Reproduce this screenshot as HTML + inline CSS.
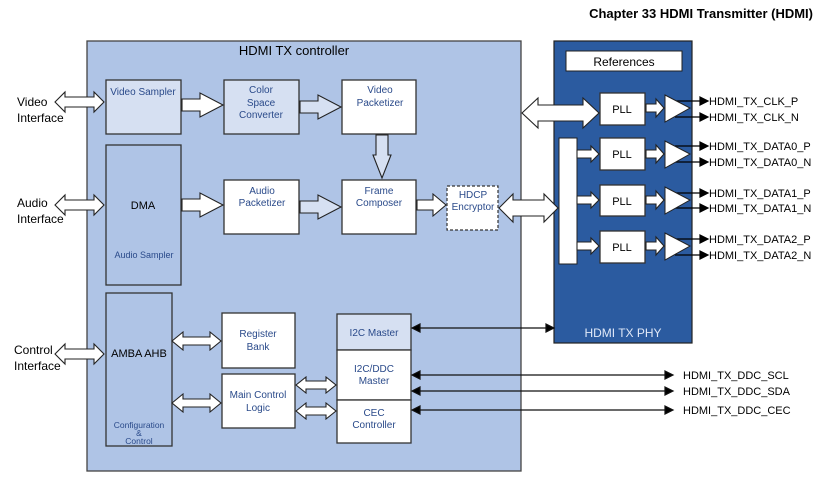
<!DOCTYPE html>
<html><head><meta charset="utf-8"><style>
html,body{margin:0;padding:0;background:#fff}
svg{display:block}
text{font-family:"Liberation Sans",sans-serif}
.b{fill:#fff;stroke:#333;stroke-width:1.3}
.l{fill:#d6e0f2;stroke:#333;stroke-width:1.3}
.a{fill:#fff;stroke:#222;stroke-width:1.1}
.al{fill:#d6e0f2;stroke:#222;stroke-width:1.1}
.t{font-size:10px;fill:#2a4a8a;text-anchor:middle}
.k{font-size:12px;fill:#000}
.o{font-size:11px;fill:#000}
</style></head><body>
<svg width="823" height="482" viewBox="0 0 823 482">
<text x="813" y="18" text-anchor="end" font-size="13" font-weight="bold">Chapter 33 HDMI Transmitter (HDMI)</text>
<!-- controller -->
<rect x="87" y="41" width="434" height="430" fill="#afc4e6" stroke="#444" stroke-width="1.3"/>
<text x="294" y="55" font-size="13" text-anchor="middle">HDMI TX controller</text>
<!-- PHY -->
<rect x="554" y="41" width="138" height="302" fill="#2b5ba0" stroke="#222" stroke-width="1.2"/>
<rect x="566" y="51" width="116" height="20" fill="#fff" stroke="#222"/>
<text x="624" y="66" font-size="12" text-anchor="middle">References</text>
<text x="623" y="337" font-size="12" fill="#dfe8f8" text-anchor="middle">HDMI TX PHY</text>

<!-- boxes -->
<rect class="l" x="106" y="80" width="75" height="54"/><text class="t" x="143" y="95">Video Sampler</text>
<rect class="l" x="224" y="80" width="75" height="54"/><text class="t" x="261" y="93">Color</text><text class="t" x="261" y="106">Space</text><text class="t" x="261" y="118">Converter</text>
<rect class="b" x="342" y="80" width="74" height="54"/><text class="t" x="380" y="93">Video</text><text class="t" x="380" y="106">Packetizer</text>
<rect x="106" y="145" width="75" height="140" fill="#afc4e6" stroke="#333" stroke-width="1.3"/>
<text x="143" y="209" font-size="11" text-anchor="middle">DMA</text><text class="t" x="144" y="258" font-size="9" style="font-size:9px">Audio Sampler</text>
<rect class="b" x="224" y="180" width="75" height="54"/><text class="t" x="262" y="194">Audio</text><text class="t" x="262" y="206">Packetizer</text>
<rect class="b" x="342" y="180" width="74" height="54"/><text class="t" x="379" y="194">Frame</text><text class="t" x="379" y="206">Composer</text>
<rect x="447" y="186" width="51" height="44" fill="#fff" stroke="#333" stroke-width="1.2" stroke-dasharray="3,2"/><text class="t" x="473" y="198">HDCP</text><text class="t" x="473" y="210">Encryptor</text>
<rect x="106" y="293" width="66" height="153" fill="#afc4e6" stroke="#333" stroke-width="1.3"/>
<text x="139" y="357" font-size="11" text-anchor="middle">AMBA AHB</text>
<text class="t" x="139" y="428" style="font-size:8.5px">Configuration</text><text class="t" x="139" y="436" style="font-size:8.5px">&amp;</text><text class="t" x="139" y="444" style="font-size:8.5px">Control</text>
<rect class="b" x="222" y="313" width="73" height="55"/><text class="t" x="258" y="337">Register</text><text class="t" x="258" y="350">Bank</text>
<rect class="b" x="222" y="374" width="73" height="54"/><text class="t" x="258" y="398">Main Control</text><text class="t" x="258" y="411">Logic</text>
<rect class="l" x="337" y="314" width="74" height="36"/><text class="t" x="374" y="336">I2C Master</text>
<rect class="b" x="337" y="350" width="74" height="50"/><text class="t" x="374" y="372">I2C/DDC</text><text class="t" x="374" y="384">Master</text>
<rect class="b" x="337" y="400" width="74" height="43"/><text class="t" x="374" y="416">CEC</text><text class="t" x="374" y="428">Controller</text>

<!-- PHY internals -->
<rect x="559" y="138" width="18" height="126" fill="#fff" stroke="#222"/>
<rect class="b" x="600" y="93" width="45" height="32"/><text x="622" y="113" font-size="11" text-anchor="middle">PLL</text>
<rect class="b" x="600" y="138" width="45" height="32"/><text x="622" y="158" font-size="11" text-anchor="middle">PLL</text>
<rect class="b" x="600" y="185" width="45" height="31"/><text x="622" y="205" font-size="11" text-anchor="middle">PLL</text>
<rect class="b" x="600" y="231" width="45" height="32"/><text x="622" y="251" font-size="11" text-anchor="middle">PLL</text>
<polygon class="a" points="577,150 591,150 591,146 599,154 591,162 591,158 577,158"/>
<polygon class="a" points="577,196 591,196 591,192 599,200 591,208 591,204 577,204"/>
<polygon class="a" points="577,242 591,242 591,238 599,246 591,254 591,250 577,250"/>
<polygon class="a" points="646,104 656,104 656,99 664,108 656,117 656,112 646,112"/>
<polygon class="a" points="646,150 656,150 656,145 664,154 656,163 656,158 646,158"/>
<polygon class="a" points="646,196 656,196 656,191 664,200 656,209 656,204 646,204"/>
<polygon class="a" points="646,242 656,242 656,237 664,246 656,255 656,250 646,250"/>
<g stroke="#000" stroke-width="1.2" fill="#000">
<line x1="675" y1="101" x2="700" y2="101"/><polygon points="700,97 708,101 700,105"/>
<line x1="675" y1="117" x2="700" y2="117"/><polygon points="700,113 708,117 700,121"/>
<line x1="675" y1="146" x2="700" y2="146"/><polygon points="700,142 708,146 700,150"/>
<line x1="675" y1="162" x2="700" y2="162"/><polygon points="700,158 708,162 700,166"/>
<line x1="675" y1="193" x2="700" y2="193"/><polygon points="700,189 708,193 700,197"/>
<line x1="675" y1="208" x2="700" y2="208"/><polygon points="700,204 708,208 700,212"/>
<line x1="675" y1="239" x2="700" y2="239"/><polygon points="700,235 708,239 700,243"/>
<line x1="675" y1="255" x2="700" y2="255"/><polygon points="700,251 708,255 700,259"/>
</g>
<polygon points="665,95 665,122 690,108" fill="#fff" stroke="#222"/>
<polygon points="665,141 665,168 690,154" fill="#fff" stroke="#222"/>
<polygon points="665,187 665,214 690,200" fill="#fff" stroke="#222"/>
<polygon points="665,233 665,260 690,246" fill="#fff" stroke="#222"/>
<text class="o" x="709" y="105">HDMI_TX_CLK_P</text>
<text class="o" x="709" y="121">HDMI_TX_CLK_N</text>
<text class="o" x="709" y="150">HDMI_TX_DATA0_P</text>
<text class="o" x="709" y="166">HDMI_TX_DATA0_N</text>
<text class="o" x="709" y="197">HDMI_TX_DATA1_P</text>
<text class="o" x="709" y="212">HDMI_TX_DATA1_N</text>
<text class="o" x="709" y="243">HDMI_TX_DATA2_P</text>
<text class="o" x="709" y="259">HDMI_TX_DATA2_N</text>

<!-- block arrows -->
<polygon class="a" points="55,102 65,92 65,97 94,97 94,92 104,102 94,112 94,107 65,107 65,112"/>
<polygon class="a" points="55,205 65,195 65,200 94,200 94,195 104,205 94,215 94,210 65,210 65,215"/>
<polygon class="a" points="55,354 65,344 65,349 94,349 94,344 104,354 94,364 94,359 65,359 65,364"/>
<polygon class="a" points="182,99 200,99 200,93 223,105 200,117 200,111 182,111"/>
<polygon class="al" points="300,101 318,101 318,95 341,107 318,119 318,113 300,113"/>
<polygon class="al" points="376,135 388,135 388,155 391,155 382,178 373,155 376,155"/>
<polygon class="a" points="182,199 200,199 200,193 223,205 200,217 200,211 182,211"/>
<polygon class="al" points="300,201 318,201 318,195 341,207 318,219 318,213 300,213"/>
<polygon class="a" points="417,200 433,200 433,194 446,205 433,216 433,210 417,210"/>
<polygon class="a" points="499,208 513,194 513,200 544,200 544,194 558,208 544,222 544,216 513,216 513,222"/>
<polygon class="a" points="522,113 538,98 538,105 583,105 583,98 599,113 583,128 583,121 538,121 538,128"/>
<polygon class="a" points="172,341 183,332 183,337 210,337 210,332 221,341 210,350 210,345 183,345 183,350"/>
<polygon class="a" points="172,403 183,394 183,399 210,399 210,394 221,403 210,412 210,407 183,407 183,412"/>
<polygon class="a" points="296,385 306,377 306,381 326,381 326,377 336,385 326,393 326,389 306,389 306,393"/>
<polygon class="a" points="296,411 306,403 306,407 326,407 326,403 336,411 326,419 326,415 306,415 306,419"/>

<!-- control lines -->
<g stroke="#111" stroke-width="1.2" fill="#000">
<line x1="420" y1="328" x2="546" y2="328"/><polygon points="412,328 420,324 420,332"/><polygon points="546,324 554,328 546,332"/>
<line x1="420" y1="375" x2="665" y2="375"/><polygon points="412,375 420,371 420,379"/><polygon points="665,371 673,375 665,379"/>
<line x1="420" y1="391" x2="665" y2="391"/><polygon points="412,391 420,387 420,395"/><polygon points="665,387 673,391 665,395"/>
<line x1="420" y1="410" x2="665" y2="410"/><polygon points="412,410 420,406 420,414"/><polygon points="665,406 673,410 665,414"/>
</g>
<text class="o" x="683" y="379">HDMI_TX_DDC_SCL</text>
<text class="o" x="683" y="395">HDMI_TX_DDC_SDA</text>
<text class="o" x="683" y="414">HDMI_TX_DDC_CEC</text>

<text class="k" x="17" y="106">Video</text><text class="k" x="17" y="122">Interface</text>
<text class="k" x="17" y="207">Audio</text><text class="k" x="17" y="223">Interface</text>
<text class="k" x="14" y="354">Control</text><text class="k" x="14" y="370">Interface</text>
</svg>
</body></html>
